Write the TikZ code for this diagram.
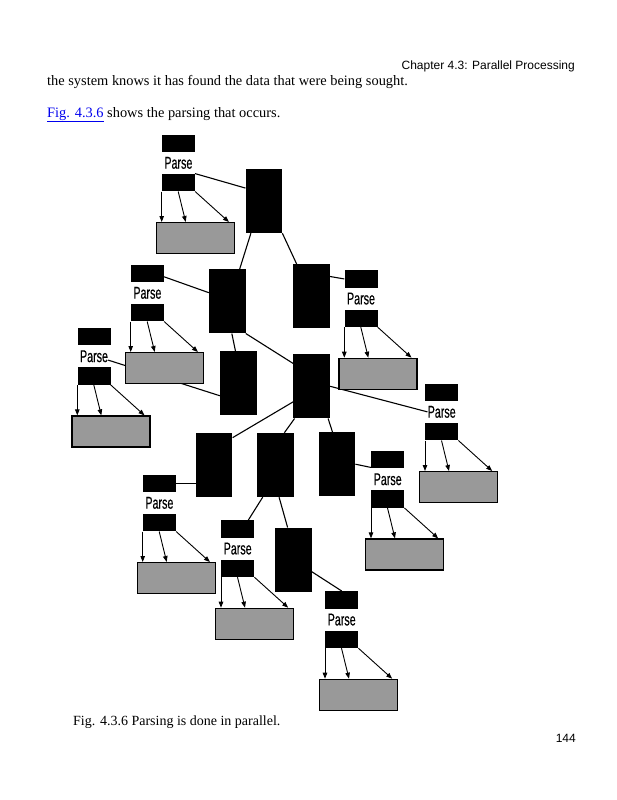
\documentclass[tikz,border=0pt]{standalone}
\usepackage{fontspec}
\setmainfont{Liberation Serif}
\setsansfont{Liberation Sans}
\newfontfamily\parsefont[FakeStretch=0.63, FakeBold=0.4]{Liberation Sans}
\usepackage{xcolor}
\usepackage{tikz}
\usetikzlibrary{arrows.meta, positioning, backgrounds}
\definecolor{linkblue}{RGB}{0,0,238}
\definecolor{resgray}{RGB}{153,153,153}

\begin{document}
\begin{tikzpicture}[x=1pt, y=-1pt]
  \tikzstyle{task} = [rectangle, fill=black, minimum width=36.5pt, minimum height=64pt, inner sep=0pt]
  \tikzstyle{blk} = [rectangle, fill=black, minimum width=33pt, minimum height=17.5pt, inner sep=0pt]
  \tikzstyle{lbl} = [minimum height=21pt, inner sep=0pt, font=\parsefont\fontsize{17}{17}\selectfont]
  \tikzstyle{res} = [rectangle, draw=black, line width=1.2pt, fill=resgray, minimum width=78pt, minimum height=31pt, inner sep=0pt, anchor=north west]
  \tikzstyle{link} = [line width=1.1pt]
  \tikzstyle{arr} = [line width=0.9pt, -{Triangle[length=6pt,width=4.5pt]}]
  \tikzstyle{txt} = [inner sep=0pt, anchor=base west, font=\fontsize{14.4}{16}\selectfont]

  \useasboundingbox (0,0) rectangle (617,800);

  % page text
  \node[txt, anchor=base east, font=\sffamily\fontsize{12}{14}\selectfont] (head) at (575,70) {Chapter 4.3: Parallel Processing};
  \node[txt] (line1) at (47,85) {the system knows it has found the data that were being sought.};
  \node[txt] (line2) at (47,117) {\textcolor{linkblue}{\underline{Fig. 4.3.6}} shows the parsing that occurs.};
  \node[txt, font=\fontsize{14}{16}\selectfont] (caption) at (73,725) {Fig. 4.3.6 Parsing is done in parallel.};
  \node[txt, anchor=base east, font=\sffamily\fontsize{12}{14}\selectfont] (page) at (576,742) {144};

  % the tasks
  \node[task] (r1) at (263.9,201) {};
  \node[task] (r2) at (227.3,301.3) {};
  \node[task] (r3) at (311.7,296.3) {};
  \node[task] (r4) at (238.3,383.3) {};
  \node[task] (r5) at (311.7,386.3) {};
  \node[task] (r6) at (337,464.2) {};
  \node[task] (r7) at (275.7,465) {};
  \node[task] (r8) at (214.2,465) {};
  \node[task] (r9) at (293.3,559.7) {};

  % parse groups, by top left corner
  \foreach \n/\l/\t in {1/161.7/134.3, 2/130.7/264.3, 3/77.3/327.7, 4/344.3/270, 5/425/383.3,
                        6/142.7/474.3, 7/221/520, 8/325/591, 9/371/450.7} {
    \node[blk, anchor=north west] (in\n) at (\l,\t) {};
    \node[lbl, below=0pt of in\n] (parse\n) {Parse};
    \node[blk, below=0pt of parse\n] (out\n) {};
    \node[res] (res\n) at ([shift={(-6,30.5)}]out\n.south west) {};
    \draw[arr] (out\n.south west) -- (out\n.south west |- res\n.north);
    \draw[arr] ([xshift=16.5pt]out\n.south west) -- ([xshift=30pt]res\n.north west);
    \draw[arr] (out\n.south east) -- ([xshift=-6pt]res\n.north east);
  }

  \begin{scope}[on background layer]
    \draw[link] (out1.north east) -- (r1.145);
    \draw[link] (r1.248) -- (r2.69);
    \draw[link] (r1.south east) -- (r3.115);
    \draw[link] (in2.348) -- (r2.155);
    \draw[link] (r2.278) -- (r4.95);
    \draw[link] (parse3.345) -- (r4.214);
    \draw[link] (r2.south east) -- (r5.129);
    \draw[link] (r3.47) -- (in4.west);
    \draw[link] (r5.east) -- (parse5.west);
    \draw[link] (r5.220) -- (r8.56);
    \draw[link] (r5.242) -- (r7.75);
    \draw[link] (r5.297) -- (r6.98);
    \draw[link] (in6.east) -- (in6.east -| r8.west);
    \draw[link] (r7.248) -- (in7.40);
    \draw[link] (r7.276) -- (r9.100);
    \draw[link] (r6.east) -- (in9.205);
    \draw[link] (r9.327) -- (in8.north);
  \end{scope}
\end{tikzpicture}
\end{document}
